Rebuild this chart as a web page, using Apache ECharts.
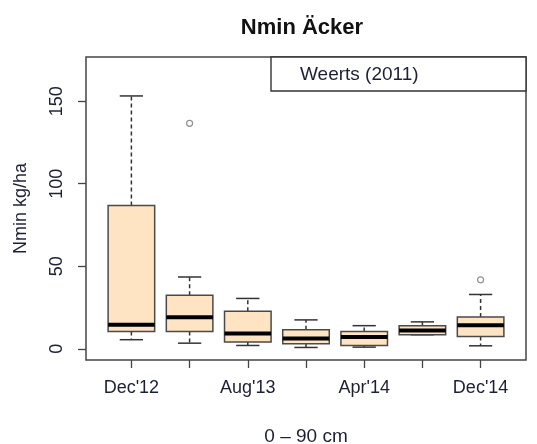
<!DOCTYPE html>
<html>
<head>
<meta charset="utf-8">
<script src="https://cdn.jsdelivr.net/npm/echarts@6/dist/echarts.min.js"></script>
<style>
  html, body { margin: 0; padding: 0; background: #fff; }
  #chart { width: 537px; height: 444px; }
</style>
</head>
<body>
<div id="chart"></div>
<script>
// sampling dates (every 4 months), only every second one is labelled
const categories = ["Dec'12", "Apr'13", "Aug'13", "Dec'13", "Apr'14", "Aug'14", "Dec'14"];
const whiskerLow = [5.5, 3.4, 2.0, 0.8, 1.0, 8.5, 1.8];
const lowerQuartile = [10.5, 10.5, 4.1, 3.0, 2.0, 8.5, 7.5];
const medians = [14.6, 19.1, 9.3, 6.3, 7.1, 11.0, 14.2];
const upperQuartile = [86.8, 32.5, 22.8, 11.6, 10.5, 14.0, 19.3];
const whiskerHigh = [153.2, 43.5, 30.5, 17.5, 14.0, 16.3, 32.9];
const outliers = [[2, 136.6], [7, 41.8]];
const yTicks = [0, 50, 100, 150];
const labelledPositions = [1, 3, 5, 7];

const FONT = '"Liberation Sans", Arial, Helvetica, sans-serif';
const TEXT = '#1c2033';
const FILL = '#ffe4c4';
const BORDER = '#4a4a4a';

const boxData = categories.map((c, i) => [
  i + 1, whiskerLow[i], lowerQuartile[i], medians[i], upperQuartile[i], whiskerHigh[i]
]);

function renderBox(params, api) {
  const x = api.value(0);
  const half = api.size([0.8, 0])[0] / 2;
  const cap = half / 2;
  const low = api.coord([x, api.value(1)]);
  const q1 = api.coord([x, api.value(2)]);
  const med = api.coord([x, api.value(3)]);
  const q3 = api.coord([x, api.value(4)]);
  const high = api.coord([x, api.value(5)]);
  const cx = low[0];
  const dashed = { stroke: '#333', lineWidth: 1.5, lineDash: [4, 3] };
  const solid = { stroke: '#333', lineWidth: 1.5 };
  return {
    type: 'group',
    children: [
      { type: 'line', shape: { x1: cx, y1: q3[1], x2: cx, y2: high[1] }, style: dashed },
      { type: 'line', shape: { x1: cx, y1: q1[1], x2: cx, y2: low[1] }, style: dashed },
      { type: 'line', shape: { x1: cx - cap, y1: high[1], x2: cx + cap, y2: high[1] }, style: solid },
      { type: 'line', shape: { x1: cx - cap, y1: low[1], x2: cx + cap, y2: low[1] }, style: solid },
      {
        type: 'rect',
        shape: { x: cx - half, y: q3[1], width: half * 2, height: q1[1] - q3[1] },
        style: { fill: FILL, stroke: BORDER, lineWidth: 1.5 }
      },
      {
        type: 'line',
        shape: { x1: cx - half, y1: med[1], x2: cx + half, y2: med[1] },
        style: { stroke: '#000', lineWidth: 4 }
      }
    ]
  };
}

const chart = echarts.init(document.getElementById('chart'));
chart.setOption({
  animation: false,
  backgroundColor: '#fff',
  title: {
    text: 'Nmin Äcker',
    left: 297,
    top: 12,
    textAlign: 'center',
    textStyle: { fontFamily: FONT, fontSize: 22, fontWeight: 'bold', color: '#111' }
  },
  grid: {
    left: 86, right: 11, top: 57, bottom: 84,
    outerBoundsMode: 'none',
    containLabel: false,
    show: true, borderColor: '#444', borderWidth: 1.5
  },
  xAxis: {
    type: 'value',
    min: 0.22,
    max: 7.78,
    splitLine: { show: false },
    axisLine: { show: false, onZero: false },
    axisTick: { show: true, customValues: [1, 2, 3, 4, 5, 6, 7], length: 8, lineStyle: { color: '#444', width: 1.3 } },
    axisLabel: {
      customValues: labelledPositions,
      formatter: (v) => categories[Math.round(v) - 1],
      margin: 19,
      fontFamily: FONT, fontSize: 18, color: TEXT
    },
    name: '0 – 90 cm',
    nameLocation: 'middle',
    nameGap: 67,
    nameTextStyle: { fontFamily: FONT, fontSize: 19, color: TEXT }
  },
  yAxis: {
    type: 'value',
    min: -6.8,
    max: 176.8,
    splitLine: { show: false },
    axisLine: { show: false, onZero: false },
    axisTick: { show: true, customValues: yTicks, length: 8, lineStyle: { color: '#444', width: 1.3 } },
    axisLabel: {
      customValues: yTicks,
      rotate: 90,
      margin: 20,
      fontFamily: FONT, fontSize: 18, color: TEXT
    },
    name: 'Nmin kg/ha',
    nameLocation: 'middle',
    nameRotate: 90,
    nameGap: 56,
    nameTextStyle: { fontFamily: FONT, fontSize: 18, color: TEXT }
  },
  graphic: [
    {
      type: 'rect',
      shape: { x: 271, y: 57, width: 255, height: 34 },
      style: { fill: '#fff', stroke: '#333', lineWidth: 1.4 },
      z: 10
    },
    {
      type: 'text',
      x: 300,
      y: 75,
      style: { text: 'Weerts (2011)', fontFamily: FONT, fontSize: 19, fill: TEXT, verticalAlign: 'middle' },
      z: 11
    }
  ],
  series: [
    {
      type: 'custom',
      renderItem: renderBox,
      data: boxData,
      encode: { x: 0, y: [1, 2, 3, 4, 5] }
    },
    {
      type: 'scatter',
      data: outliers,
      symbol: 'circle',
      symbolSize: 6,
      z: 5,
      itemStyle: { color: '#fff', borderColor: '#777', borderWidth: 1.2 }
    }
  ]
});
</script>
</body>
</html>
